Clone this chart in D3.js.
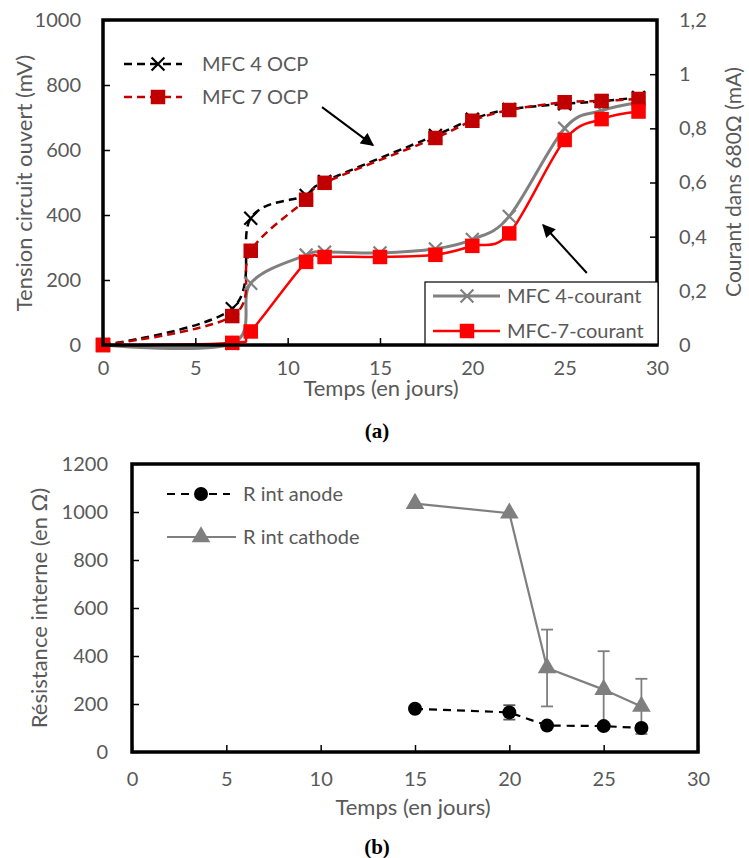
<!DOCTYPE html>
<html><head><meta charset="utf-8">
<script src="https://cdn.jsdelivr.net/npm/d3@7"></script>
<style>body{margin:0;background:#fff}svg{display:block}text{font-family:Lato,"Open Sans",sans-serif}</style>
</head><body><svg id="c" width="749" height="858"></svg>
<script>
// ---------- DATA (a) ----------
const daysOCP = [0, 7, 8, 11, 12, 18, 20, 22, 25, 27, 29];
const mfc4OCP = [0, 112, 390, 460, 503, 645, 695, 725, 742, 750, 762];
const mfc7OCP = [0, 89, 290, 447, 499, 637, 690, 723, 747, 751, 757];
const daysCur = [0, 7, 8, 11, 12, 15, 18, 20, 22, 25, 27, 29];
const mfc4Cur = [0, 0.005, 0.228, 0.332, 0.343, 0.340, 0.355, 0.39, 0.475, 0.80, 0.865, 0.895];
const mfc7Cur = [0, 0.008, 0.05, 0.307, 0.325, 0.325, 0.333, 0.366, 0.412, 0.757, 0.834, 0.862];
const xTicksA = [0, 5, 10, 15, 20, 25, 30];
const yTicksA = [0, 200, 400, 600, 800, 1000];
const yTicksRA = [0, 0.2, 0.4, 0.6, 0.8, 1, 1.2];
// arrows (data coords): [x0, y0, x1, y1]
const arrowOCP = [11.86, 732, 14.62, 615];      // left axis units
const arrowCur = [26.2, 0.266, 23.83, 0.443];   // right axis units

// ---------- DATA (b) ----------
const daysR = [15, 20, 22, 25, 27];
const rAnode = [180, 165, 110, 108, 100];
const rAnodeErr = [0, 30, 0, 0, 0];
const rCathode = [1035, 995, 350, 260, 190];
const rCathodeErr = [0, 0, 160, 160, 115];
const xTicksB = [0, 5, 10, 15, 20, 25, 30];
const yTicksB = [0, 200, 400, 600, 800, 1000, 1200];

const svg = d3.select("#c");
const TXT = "#595959";
const fmtFr = d => String(d).replace(".", ",");
const fmtInt = d => String(d);

// ================= Chart (a) =================
const xa = d3.scaleLinear().domain([0, 30]).range([103, 657]);
const ya = d3.scaleLinear().domain([0, 1000]).range([345, 20]);
const yaR = d3.scaleLinear().domain([0, 1.2]).range([345, 20]);
const ga = svg.append("g");
const curve = d3.curveCatmullRom.alpha(0);

function series(g, xs, ys, xsc, ysc, color, width, dash) {
  const line = d3.line().x((d, i) => xsc(xs[i])).y(d => ysc(d)).curve(curve);
  g.append("path").attr("d", line(ys)).attr("fill", "none").attr("stroke", color)
    .attr("stroke-width", width).attr("stroke-dasharray", dash || null);
}
function markers(g, xs, ys, xsc, ysc, type, color, size) {
  const sym = d3.symbol().type(type).size(size);
  g.selectAll(null).data(ys).enter().append("path")
    .attr("d", sym)
    .attr("transform", (d, i) => `translate(${xsc(xs[i])},${ysc(d)})`)
    .attr("fill", type === d3.symbolTimes ? "none" : color)
    .attr("stroke", color)
    .attr("stroke-width", type === d3.symbolTimes ? 2.2 : 0);
}

// series (a)
series(ga, daysCur, mfc4Cur, xa, yaR, "#808080", 3);
series(ga, daysCur, mfc7Cur, xa, yaR, "#ff0000", 2.5);
series(ga, daysOCP, mfc4OCP, xa, ya, "#000", 2.5, "8,5");
series(ga, daysOCP, mfc7OCP, xa, ya, "#c00000", 2.5, "8,5");
markers(ga, daysCur, mfc4Cur, xa, yaR, d3.symbolTimes, "#808080", 110);
markers(ga, daysOCP, mfc4OCP, xa, ya, d3.symbolTimes, "#000", 110);
markers(ga, daysOCP, mfc7OCP, xa, ya, d3.symbolSquare, "#c00000", 210);
markers(ga, daysCur, mfc7Cur, xa, yaR, d3.symbolSquare, "#ff0000", 210);

// frame (a)
ga.append("rect").attr("x", xa(0)).attr("y", ya(1000)).attr("width", xa(30) - xa(0))
  .attr("height", ya(0) - ya(1000)).attr("fill", "none").attr("stroke", "#000").attr("stroke-width", 3.5);

// axes (a)
const axBA = ga.append("g").attr("transform", `translate(0,${ya(0)})`)
  .call(d3.axisBottom(xa).tickValues(xTicksA).tickFormat(fmtInt).tickSize(-7).tickPadding(16));
const axLA = ga.append("g").attr("transform", `translate(${xa(0)},0)`)
  .call(d3.axisLeft(ya).tickValues(yTicksA).tickFormat(fmtInt).tickSize(-7).tickPadding(22));
const axRA = ga.append("g").attr("transform", `translate(${xa(30)},0)`)
  .call(d3.axisRight(yaR).tickValues(yTicksRA).tickFormat(fmtFr).tickSize(-7).tickPadding(22));
[axBA, axLA, axRA].forEach(a => {
  a.select(".domain").remove();
  a.selectAll(".tick line").attr("stroke", "#000").attr("stroke-width", 1.5);
  a.selectAll(".tick text").attr("fill", TXT).style("font-size", "20px").style("font-family", "Lato");
});

// arrows (a)
const defs = svg.append("defs");
defs.append("marker").attr("id", "ah").attr("viewBox", "0 0 10 10").attr("refX", 9).attr("refY", 5)
  .attr("markerWidth", 7).attr("markerHeight", 6.5).attr("markerUnits", "strokeWidth").attr("orient", "auto")
  .append("path").attr("d", "M0,0L10,5L0,10z").attr("fill", "#000");
ga.append("line").attr("x1", xa(arrowOCP[0])).attr("y1", ya(arrowOCP[1]))
  .attr("x2", xa(arrowOCP[2])).attr("y2", ya(arrowOCP[3]))
  .attr("stroke", "#000").attr("stroke-width", 2).attr("marker-end", "url(#ah)");
ga.append("line").attr("x1", xa(arrowCur[0])).attr("y1", yaR(arrowCur[1]))
  .attr("x2", xa(arrowCur[2])).attr("y2", yaR(arrowCur[3]))
  .attr("stroke", "#000").attr("stroke-width", 2).attr("marker-end", "url(#ah)");

// legend (a) top-left
function legendItem(g, x0, x1, xm, y, color, width, dash, type, msize, label, tx) {
  g.append("line").attr("x1", x0).attr("x2", x1).attr("y1", y).attr("y2", y)
    .attr("stroke", color).attr("stroke-width", width).attr("stroke-dasharray", dash || null);
  g.append("path").attr("d", d3.symbol().type(type).size(msize)())
    .attr("transform", `translate(${xm},${y})`)
    .attr("fill", type === d3.symbolTimes ? "none" : color)
    .attr("stroke", color).attr("stroke-width", type === d3.symbolTimes ? 2.2 : 0);
  g.append("text").attr("x", tx).attr("y", y).attr("dy", "0.35em").attr("fill", TXT)
    .style("font-size", "20px").text(label);
}
legendItem(ga, 124, 182, 158, 64, "#000", 2.5, "8,5", d3.symbolTimes, 110, "MFC 4 OCP", 202);
legendItem(ga, 124, 182, 158, 97, "#c00000", 2.5, "8,5", d3.symbolSquare, 210, "MFC 7 OCP", 202);

// legend (a) bottom-right (white box over frame)
ga.append("rect").attr("x", 425).attr("y", 282).attr("width", 233).attr("height", 62)
  .attr("fill", "#fff").attr("stroke", "#000").attr("stroke-width", 1.2);
legendItem(ga, 433, 500, 467, 296, "#808080", 3, null, d3.symbolTimes, 110, "MFC 4-courant", 507);
legendItem(ga, 433, 500, 467, 331, "#ff0000", 2.5, null, d3.symbolSquare, 210, "MFC-7-courant", 507);

// titles (a)
ga.append("text").attr("x", 381).attr("y", 396).attr("text-anchor", "middle").attr("fill", TXT)
  .style("font-size", "22px").text("Temps (en jours)");
ga.append("text").attr("transform", `translate(32,183) rotate(-90)`).attr("text-anchor", "middle")
  .attr("fill", TXT).style("font-size", "22px").text("Tension circuit ouvert (mV)");
ga.append("text").attr("transform", `translate(741,182) rotate(-90)`).attr("text-anchor", "middle")
  .attr("fill", TXT).style("font-size", "21px").text("Courant dans 680Ω (mA)");
ga.append("text").attr("x", 377).attr("y", 438).attr("text-anchor", "middle").attr("fill", "#000")
  .style("font-family", "'Liberation Serif',serif").style("font-weight", "bold").style("font-size", "21px").text("(a)");

// ================= Chart (b) =================
const xb = d3.scaleLinear().domain([0, 30]).range([132, 698]);
const yb = d3.scaleLinear().domain([0, 1200]).range([752, 464]);
const gb = svg.append("g");

// error bars
function errBars(g, xs, ys, es, color) {
  xs.forEach((x, i) => {
    if (!es[i]) return;
    const cx = xb(x), t = yb(ys[i] + es[i]), b = yb(ys[i] - es[i]);
    g.append("line").attr("x1", cx).attr("x2", cx).attr("y1", t).attr("y2", b).attr("stroke", color).attr("stroke-width", 1.8);
    g.append("line").attr("x1", cx - 6).attr("x2", cx + 6).attr("y1", t).attr("y2", t).attr("stroke", color).attr("stroke-width", 1.8);
    g.append("line").attr("x1", cx - 6).attr("x2", cx + 6).attr("y1", b).attr("y2", b).attr("stroke", color).attr("stroke-width", 1.8);
  });
}
errBars(gb, daysR, rCathode, rCathodeErr, "#7f7f7f");
errBars(gb, daysR, rAnode, rAnodeErr, "#595959");

const lineB = (ys) => d3.line().x((d, i) => xb(daysR[i])).y(d => yb(d))(ys);
gb.append("path").attr("d", lineB(rCathode)).attr("fill", "none").attr("stroke", "#7f7f7f").attr("stroke-width", 2.2);
gb.append("path").attr("d", lineB(rAnode)).attr("fill", "none").attr("stroke", "#000").attr("stroke-width", 2.2).attr("stroke-dasharray", "8,6");
gb.selectAll(null).data(rCathode).enter().append("path")
  .attr("d", d3.symbol().type(d3.symbolTriangle).size(150))
  .attr("transform", (d, i) => `translate(${xb(daysR[i])},${yb(d)})`).attr("fill", "#7f7f7f");
gb.selectAll(null).data(rAnode).enter().append("circle")
  .attr("cx", (d, i) => xb(daysR[i])).attr("cy", d => yb(d)).attr("r", 7).attr("fill", "#000");

gb.append("rect").attr("x", xb(0)).attr("y", yb(1200)).attr("width", xb(30) - xb(0))
  .attr("height", yb(0) - yb(1200)).attr("fill", "none").attr("stroke", "#000").attr("stroke-width", 3.5);

const axBB = gb.append("g").attr("transform", `translate(0,${yb(0)})`)
  .call(d3.axisBottom(xb).tickValues(xTicksB).tickFormat(fmtInt).tickSize(-7).tickPadding(20));
const axLB = gb.append("g").attr("transform", `translate(${xb(0)},0)`)
  .call(d3.axisLeft(yb).tickValues(yTicksB).tickFormat(fmtInt).tickSize(-7).tickPadding(24));
[axBB, axLB].forEach(a => {
  a.select(".domain").remove();
  a.selectAll(".tick line").attr("stroke", "#000").attr("stroke-width", 1.5);
  a.selectAll(".tick text").attr("fill", TXT).style("font-size", "20px").style("font-family", "Lato");
});

// legend (b)
gb.append("line").attr("x1", 167).attr("x2", 230).attr("y1", 494).attr("y2", 494)
  .attr("stroke", "#000").attr("stroke-width", 2.2).attr("stroke-dasharray", "8,6");
gb.append("circle").attr("cx", 201).attr("cy", 494).attr("r", 7).attr("fill", "#000");
gb.append("text").attr("x", 243).attr("y", 494).attr("dy", "0.35em").attr("fill", TXT).style("font-size", "20px").text("R int anode");
gb.append("line").attr("x1", 167).attr("x2", 236).attr("y1", 537).attr("y2", 537)
  .attr("stroke", "#7f7f7f").attr("stroke-width", 2.2);
gb.append("path").attr("d", d3.symbol().type(d3.symbolTriangle).size(150)()).attr("transform", "translate(201,537)").attr("fill", "#7f7f7f");
gb.append("text").attr("x", 243).attr("y", 537).attr("dy", "0.35em").attr("fill", TXT).style("font-size", "20px").text("R int cathode");

gb.append("text").attr("x", 413).attr("y", 815).attr("text-anchor", "middle").attr("fill", TXT)
  .style("font-size", "22px").text("Temps (en jours)");
gb.append("text").attr("transform", `translate(47,608) rotate(-90)`).attr("text-anchor", "middle")
  .attr("fill", TXT).style("font-size", "22px").text("Résistance interne (en Ω)");
gb.append("text").attr("x", 377).attr("y", 854).attr("text-anchor", "middle").attr("fill", "#000")
  .style("font-family", "'Liberation Serif',serif").style("font-weight", "bold").style("font-size", "21px").text("(b)");
</script></body></html>
